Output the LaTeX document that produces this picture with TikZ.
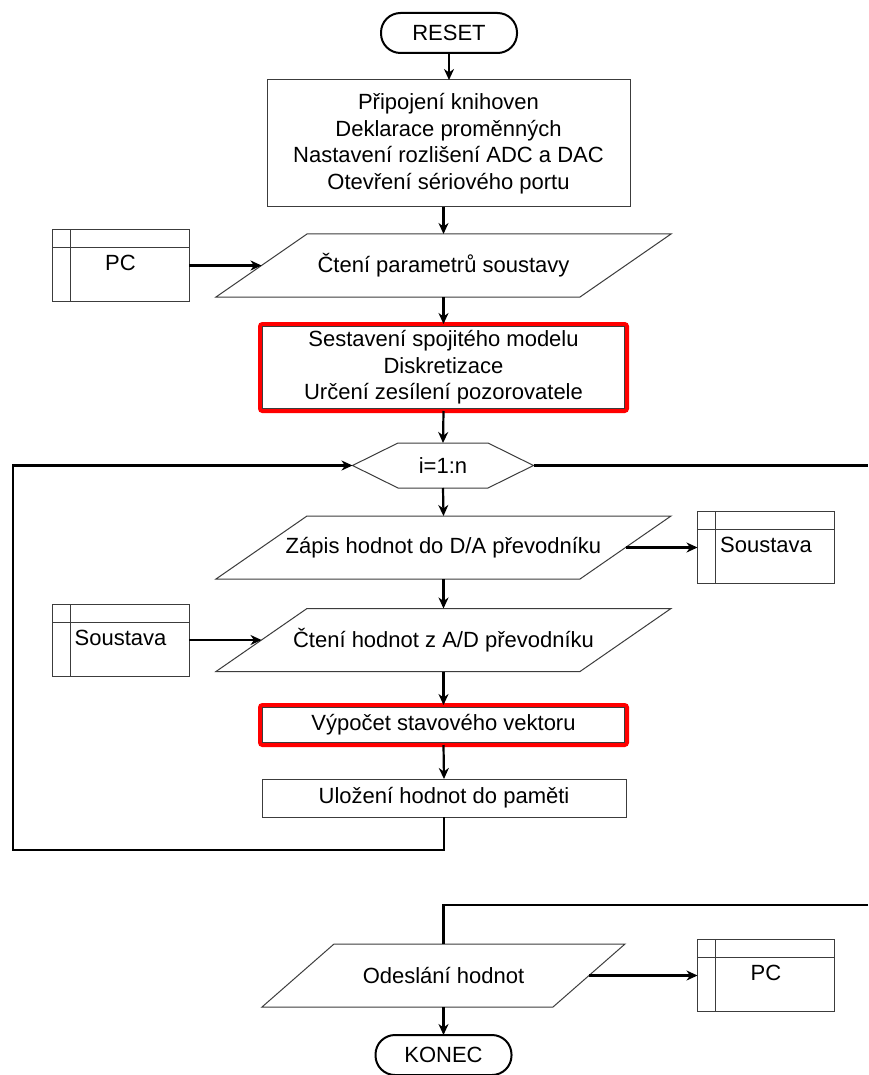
\documentclass[tikz,border=0pt]{standalone}
\usepackage{fontspec}
\setmainfont{Liberation Sans}
\usetikzlibrary{arrows.meta,calc}
\definecolor{boxgray}{RGB}{60,60,60}
\begin{document}
\begin{tikzpicture}[x=1pt,y=1pt,
  font=\fontsize{22}{26.5}\selectfont,
  every node/.style={inner sep=0pt, outer sep=0pt},
  proc/.style={draw=boxgray, line width=1pt, align=center},
  redbox/.style={draw=red, line width=4pt, rounded corners=2.5pt, align=center},
  term/.style={draw=black, line width=2pt, rounded corners=19.5pt, minimum width=136pt, minimum height=40pt},
  store/.style={draw=boxgray, line width=1pt, minimum width=137pt, minimum height=72pt, text depth=5pt},
  para/.style={minimum width=364pt, minimum height=63pt},
  shp/.style={draw=boxgray, line width=1pt},
  flow/.style={line width=2.2pt, -{Stealth[length=11pt,width=10pt,inset=3.5pt]}},
  plainline/.style={line width=2.2pt},
]
\fill[white] (0,0) rectangle (868,-1075);
\useasboundingbox (0,0) rectangle (868,-1075);

% nodes
\node[term] (reset) at (449,-33) {RESET};
\node[proc, minimum width=363pt, minimum height=127pt] (b1) at (448.5,-143.5)
  {Připojení knihoven\\Deklarace proměnných\\Nastavení rozlišení ADC a DAC\\Otevření sériového portu};
\node[para] (p1) at (443.5,-265.5) {Čtení parametrů soustavy};
\node[redbox, minimum width=367pt, minimum height=87pt] (r1) at (443.5,-367.5)
  {Sestavení spojitého modelu\\Diskretizace\\Určení zesílení pozorovatele};
\node[minimum width=181pt, minimum height=45pt] (h) at (443,-465.5) {i=1:n};
\node[para] (p2) at (443.5,-547.5) {Zápis hodnot do D/A převodníku};
\node[para] (p3) at (443.5,-640) {Čtení hodnot z A/D převodníku};
\node[redbox, minimum width=367pt, minimum height=40pt] (r2) at (443.5,-725) {Výpočet stavového vektoru};
\node[proc, minimum width=364pt, minimum height=38pt] (u) at (444,-798) {Uložení hodnot do paměti};
\node[para, minimum width=291pt] (p4) at (443.5,-975.5) {Odeslání hodnot};
\node[term] (konec) at (443.5,-1055) {KONEC};

\node[store] (pc1) at (120.5,-265.5) {PC};
\node[store] (s1) at (766,-547.5) {Soustava};
\node[store] (s2) at (120.5,-640) {Soustava};
\node[store] (pc2) at (766,-975.5) {PC};

% shapes
\foreach \n/\s in {p1/45.5,p2/45.5,p3/45.5,p4/36}
  \draw[shp] ([xshift=-\s]\n.south west) -- ([xshift=\s]\n.north west)
    -- ([xshift=\s]\n.north east) -- ([xshift=-\s]\n.south east) -- cycle;
\draw[shp] (h.west) -- ([xshift=45.5]h.north west) -- ([xshift=-45.5]h.north east)
  -- (h.east) -- ([xshift=-45.5]h.south east) -- ([xshift=45.5]h.south west) -- cycle;
\foreach \n in {r1,r2}
  \draw[boxgray, line width=0.8pt] ($(\n.north west)+(2.4,-2.4)$) rectangle ($(\n.south east)+(-2.4,2.4)$);
\foreach \n in {pc1,s1,s2,pc2}{
  \draw[shp] ($(\n.north west)+(0,-18)$) -- ($(\n.north east)+(0,-18)$);
  \draw[shp] ($(\n.north west)+(18,0)$) -- ($(\n.south west)+(18,0)$);
}

% connectors
\coordinate (lb) at (13,-850);
\coordinate (re) at (868,-465.5);
\coordinate (rb) at (868,-905);

\draw[flow] (reset.south) -- (reset.south |- b1.north);
\draw[flow] (b1.south -| p1.north) -- (p1.north);
\draw[flow] (p1.south) -- (r1.north);
\draw[flow] (r1.south) -- (h.north);
\draw[flow] (h.south) -- (p2.north);
\draw[flow] (p2.south) -- (p3.north);
\draw[flow] (p3.south) -- (r2.north);
\draw[flow] (r2.south) -- (u.north);
\draw[flow] (u.south) |- (lb) -- (lb |- h.west) -- (h.west);
\draw[plainline] (h.east) -- (re);
\draw[plainline] (rb) -| (p4.north);
\draw[flow] (p4.south) -- (konec.north);

\draw[flow] (pc1.east) -- (p1.west);
\draw[flow] (p2.east) -- (s1.west);
\draw[flow] (s2.east) -- (p3.west);
\draw[flow] (p4.east) -- (pc2.west);
\end{tikzpicture}
\end{document}
